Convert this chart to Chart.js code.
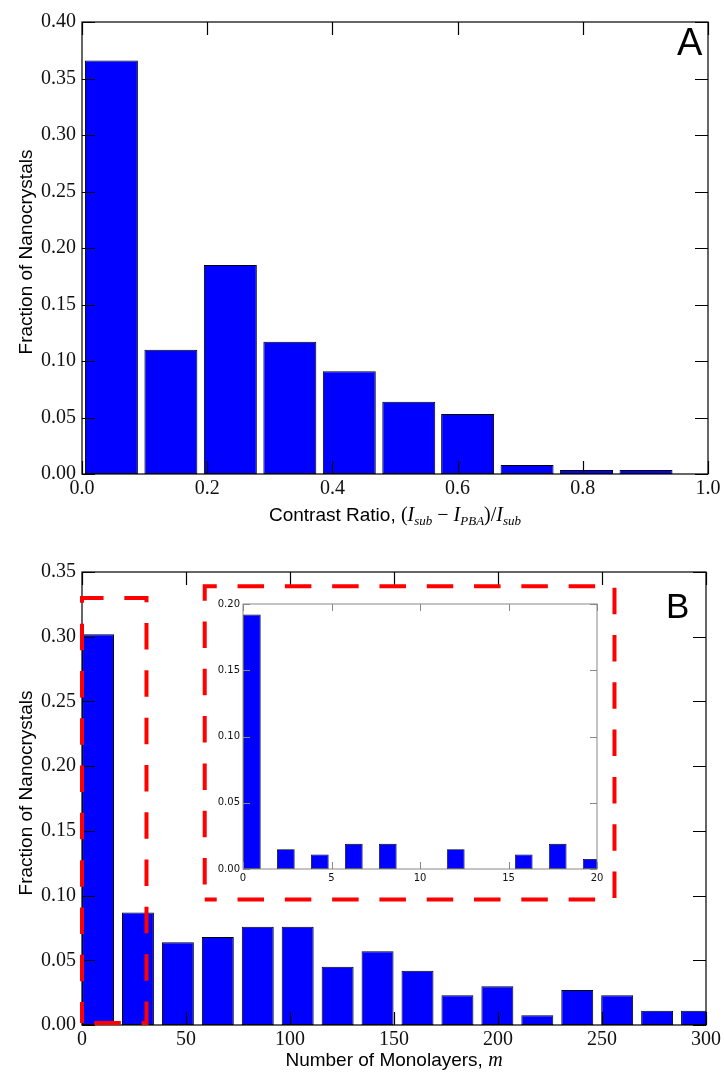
<!DOCTYPE html>
<html>
<head>
<meta charset="utf-8">
<script src="https://cdn.jsdelivr.net/npm/chart.js@4/dist/chart.umd.min.js"></script>
<style>
body { margin: 0; background: #fff; }
#wrap { position: relative; width: 724px; height: 1077px; }
canvas { position: absolute; }
</style>
</head>
<body>
<div id="wrap">
  <canvas id="contrastChart" width="724" height="540" style="left:0;top:0"></canvas>
  <canvas id="layersChart" width="724" height="537" style="left:0;top:540px"></canvas>
  <canvas id="insetChart" width="420" height="305" style="left:195px;top:590px"></canvas>
</div>
<script>
// Panel A: contrast ratio histogram (bin centres + fractions)
const contrastBins = [0.047, 0.142, 0.237, 0.332, 0.427, 0.522, 0.616, 0.711, 0.806, 0.901];
const contrastFractions = [0.366, 0.110, 0.185, 0.117, 0.091, 0.064, 0.053, 0.008, 0.0035, 0.0035];
const contrastTicksX = [0, 0.2, 0.4, 0.6, 0.8, 1.0];
const contrastTicksY = [0, 0.05, 0.10, 0.15, 0.20, 0.25, 0.30, 0.35, 0.40];

// Panel B: number of monolayers histogram
const layerBins = [7.7, 26.9, 46.1, 65.3, 84.5, 103.7, 122.9, 142.1, 161.3, 180.5, 199.7, 218.9, 238.1, 257.3, 276.5, 295.7];
const layerFractions = [0.302, 0.087, 0.064, 0.068, 0.076, 0.076, 0.045, 0.057, 0.042, 0.023, 0.030, 0.0075, 0.027, 0.023, 0.011, 0.011];
const layerTicksX = [0, 50, 100, 150, 200, 250, 300];
const layerTicksY = [0, 0.05, 0.10, 0.15, 0.20, 0.25, 0.30, 0.35];

// Panel B inset: zoom on 0-20 monolayers
const insetBins = [0.5, 2.42, 4.34, 6.26, 8.18, 10.1, 12.02, 13.94, 15.86, 17.78, 19.7];
const insetFractions = [0.192, 0.015, 0.011, 0.019, 0.019, 0, 0.015, 0, 0.011, 0.019, 0.0075];
const insetTicksX = [0, 5, 10, 15, 20];
const insetTicksY = [0, 0.05, 0.10, 0.15, 0.20];

// dashed zoom boxes on panel B, in data units
const zoomBoxX0 = [0, 59];
const zoomBoxX1 = [31, 256];
const zoomBoxY0 = [0.0015, 0.097];
const zoomBoxY1 = [0.33, 0.339];

const SERIF = '"Liberation Serif", "DejaVu Serif", serif';
const SANS = '"Liberation Sans", Arial, sans-serif';

function toPoints(xs, ys) {
    return xs.map((x, i) => ({ x: x, y: ys[i] }));
}

function fixTicks(values) {
    return scale => { scale.ticks = values.map(v => ({ value: v })); };
}

// matplotlib-style frame with inward ticks on all four sides
function frameTicks(len, color, width) {
    return {
        id: 'frameTicks',
        beforeDatasetsDraw(chart) {
            const a = chart.chartArea, ctx = chart.ctx;
            ctx.save();
            ctx.fillStyle = '#fff';
            ctx.fillRect(a.left, a.top, a.right - a.left, a.bottom - a.top);
            ctx.restore();
        },
        afterDatasetsDraw(chart) {
            const { ctx, chartArea: a, scales: { x, y } } = chart;
            ctx.save();
            ctx.strokeStyle = color;
            ctx.lineWidth = width;
            ctx.beginPath();
            x.ticks.forEach(t => {
                const px = Math.round(x.getPixelForValue(t.value)) + 0.5;
                ctx.moveTo(px, a.bottom); ctx.lineTo(px, a.bottom - len);
                ctx.moveTo(px, a.top); ctx.lineTo(px, a.top + len);
            });
            y.ticks.forEach(t => {
                const py = Math.round(y.getPixelForValue(t.value)) + 0.5;
                ctx.moveTo(a.left, py); ctx.lineTo(a.left + len, py);
                ctx.moveTo(a.right, py); ctx.lineTo(a.right - len, py);
            });
            ctx.stroke();
            ctx.strokeRect(a.left, a.top, a.right - a.left, a.bottom - a.top);
            ctx.restore();
        }
    };
}

// text made of pieces in different fonts, centred on cx, baseline at cy
function drawRich(ctx, parts, cx, cy, rotate) {
    ctx.save();
    ctx.translate(cx, cy);
    if (rotate) ctx.rotate(-Math.PI / 2);
    ctx.fillStyle = '#000';
    ctx.textBaseline = 'alphabetic';
    ctx.textAlign = 'left';
    let w = 0;
    parts.forEach(p => { ctx.font = p.font; w += ctx.measureText(p.text).width; });
    let x = -w / 2;
    parts.forEach(p => {
        ctx.font = p.font;
        ctx.fillText(p.text, x, p.dy || 0);
        x += ctx.measureText(p.text).width;
    });
    ctx.restore();
}

function labels(yTitle, xTitle, yCenter, xBase, letter, letterX, letterY, letterSize) {
    return {
        id: 'labels',
        afterDraw(chart) {
            const ctx = chart.ctx, a = chart.chartArea;
            drawRich(ctx, [{ text: yTitle, font: '19px ' + SANS }], 32, yCenter, true);
            drawRich(ctx, xTitle, (a.left + a.right) / 2, xBase, false);
            ctx.save();
            ctx.font = letterSize + 'px ' + SANS;
            ctx.fillStyle = '#000';
            ctx.textAlign = 'left';
            ctx.fillText(letter, letterX, letterY);
            ctx.restore();
        }
    };
}

const zoomBoxes = {
    id: 'zoomBoxes',
    afterDraw(chart) {
        const { ctx, scales: { x, y } } = chart;
        const offsets = [35, 14.5];
        ctx.save();
        ctx.strokeStyle = '#ff0000';
        ctx.lineWidth = 4;
        ctx.setLineDash([26.5, 20.8]);
        zoomBoxX0.forEach((x0, i) => {
            const l = x.getPixelForValue(x0), r = x.getPixelForValue(zoomBoxX1[i]);
            const b = y.getPixelForValue(zoomBoxY0[i]), t = y.getPixelForValue(zoomBoxY1[i]);
            ctx.lineDashOffset = offsets[i];
            ctx.beginPath();
            ctx.moveTo(l, b); ctx.lineTo(r, b); ctx.lineTo(r, t); ctx.lineTo(l, t); ctx.closePath();
            ctx.stroke();
        });
        ctx.restore();
    }
};

function axis(ticks, min, max, fit, font, pad, fmt) {
    return {
        type: 'linear', min: min, max: max, offset: false,
        grid: { display: false, drawTicks: false }, border: { display: false },
        afterBuildTicks: fixTicks(ticks),
        afterFit: fit,
        ticks: { autoSkip: false, maxRotation: 0, color: '#111', font: font, padding: pad, callback: fmt }
    };
}

const mainFont = { family: SERIF, size: 20 };
const barStyle = { backgroundColor: '#0000ff', borderColor: '#000', borderWidth: 1, borderSkipped: false };

// Panel A
new Chart(document.getElementById('contrastChart'), {
    type: 'bar',
    data: { datasets: [Object.assign({ data: toPoints(contrastBins, contrastFractions), barPercentage: 0.9, categoryPercentage: 1 }, barStyle)] },
    options: {
        responsive: false, animation: false, devicePixelRatio: 1,
        layout: { padding: { top: 22, right: 16, left: 0, bottom: 0 } },
        plugins: { legend: { display: false }, tooltip: { enabled: false } },
        scales: {
            x: axis(contrastTicksX, 0, 1, s => { s.height = 66; }, mainFont, 3, v => v.toFixed(1)),
            y: axis(contrastTicksY, 0, 0.4, s => { s.width = 82; }, mainFont, 6, v => v.toFixed(2))
        }
    },
    plugins: [frameTicks(13, '#000', 1.2), labels('Fraction of Nanocrystals', [
        { text: 'Contrast Ratio, ', font: '19px ' + SANS },
        { text: '(', font: '20px ' + SERIF },
        { text: 'I', font: 'italic 20px ' + SERIF },
        { text: 'sub', font: 'italic 13px ' + SERIF, dy: 4 },
        { text: ' \u2212 ', font: '20px ' + SERIF },
        { text: 'I', font: 'italic 20px ' + SERIF },
        { text: 'PBA', font: 'italic 13px ' + SERIF, dy: 4 },
        { text: ')/', font: '20px ' + SERIF },
        { text: 'I', font: 'italic 20px ' + SERIF },
        { text: 'sub', font: 'italic 13px ' + SERIF, dy: 4 }
    ], 252, 521, 'A', 677, 55, 38)]
});

// Panel B
new Chart(document.getElementById('layersChart'), {
    type: 'bar',
    data: { datasets: [Object.assign({ data: toPoints(layerBins, layerFractions), barPercentage: 0.8, categoryPercentage: 1 }, barStyle)] },
    options: {
        responsive: false, animation: false, devicePixelRatio: 1,
        layout: { padding: { top: 32, right: 16, left: 0, bottom: 0 } },
        plugins: { legend: { display: false }, tooltip: { enabled: false } },
        scales: {
            x: axis(layerTicksX, 0, 300, s => { s.height = 52; }, mainFont, 3, v => String(v)),
            y: axis(layerTicksY, 0, 0.35, s => { s.width = 82; }, mainFont, 6, v => v.toFixed(2))
        }
    },
    plugins: [frameTicks(13, '#000', 1.2), zoomBoxes, labels('Fraction of Nanocrystals', [
        { text: 'Number of Monolayers, ', font: '19px ' + SANS },
        { text: 'm', font: 'italic 20px ' + SERIF }
    ], 253, 526, 'B', 666, 78, 35)]
});

// Inset
const insetFont = { family: '"DejaVu Sans", sans-serif', size: 10 };
new Chart(document.getElementById('insetChart'), {
    type: 'bar',
    data: { datasets: [Object.assign({ data: toPoints(insetBins, insetFractions), barPercentage: 0.52, categoryPercentage: 1 }, barStyle, { borderWidth: 0.8 })] },
    options: {
        responsive: false, animation: false, devicePixelRatio: 1,
        layout: { padding: { top: 14, right: 18, left: 0, bottom: 0 } },
        plugins: { legend: { display: false }, tooltip: { enabled: false } },
        scales: {
            x: axis(insetTicksX, 0, 20, s => { s.height = 26; }, insetFont, 3, v => String(v)),
            y: axis(insetTicksY, 0, 0.2, s => { s.width = 48; }, insetFont, 3, v => v.toFixed(2))
        }
    },
    plugins: [frameTicks(7, '#888', 1)]
});
</script>
</body>
</html>
